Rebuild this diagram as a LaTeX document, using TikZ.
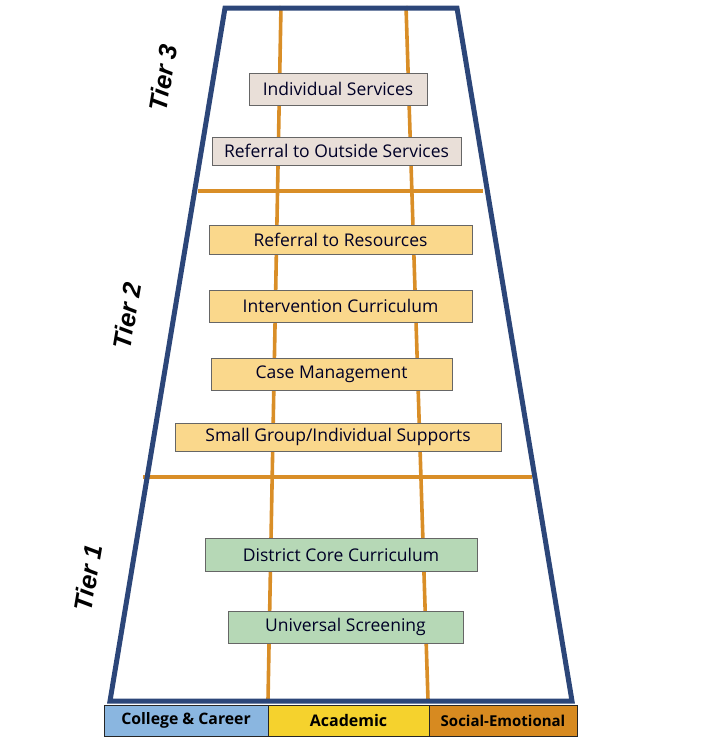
\documentclass[tikz,border=0pt]{standalone}
\usepackage{fontspec}
\setmainfont{Open Sans}
\newfontfamily\tierfont{Liberation Sans}
\definecolor{navy}{HTML}{2C4679}
\definecolor{gridorange}{HTML}{D98E27}
\definecolor{tierthree}{HTML}{E9DFD8}
\definecolor{tiertwo}{HTML}{FAD88C}
\definecolor{tierone}{HTML}{B6D8B6}
\definecolor{ccblue}{HTML}{8AB6E0}
\definecolor{acyellow}{HTML}{F5D22D}
\definecolor{seorange}{HTML}{D78A20}
\tikzset{
  sbox/.style={draw=black!60, line width=0.9pt, inner sep=0pt, font=\fontsize{17.5}{20}\selectfont, text=black!85!blue},
  tierlabel/.style={rotate=80.4, font=\tierfont\bfseries\itshape\fontsize{25.5}{28}\selectfont},
  barbox/.style={draw=black!85, line width=1pt, inner sep=0pt, minimum height=31pt, font=\bfseries\fontsize{15.8}{18}\selectfont},
  grid/.style={gridorange, line width=3.6pt},
}
\begin{document}
\begin{tikzpicture}[x=1pt,y=-1pt]
\useasboundingbox (0,0) rectangle (702,755);
% grid coordinates
\coordinate (va1) at (281,6);
\coordinate (vb1) at (268,700);
\coordinate (va2) at (406,6);
\coordinate (vb2) at (428,700);
\coordinate (h1l) at (198,191);
\coordinate (h1r) at (483,191);
\coordinate (h2l) at (143,477);
\coordinate (h2r) at (532,477);
\draw[grid] (va1) -- (vb1);
\draw[grid] (va2) -- (vb2);
\draw[grid] (h1l) -- (h1r);
\draw[grid] (h2l) -- (h2r);
% trapezoid
\coordinate (tl) at (225,8);
\coordinate (tr) at (457,8);
\coordinate (br) at (572,701);
\coordinate (bl) at (110,701);
\draw[navy, line width=5pt, line join=miter] (tl) -- (tr) -- (br) -- (bl) -- cycle;
% boxes
\node[sbox, fill=tierthree, minimum width=178pt, minimum height=32pt] (s1) at (338,89) {Individual Services};
\node[sbox, fill=tierthree, minimum width=249pt, minimum height=28pt] (s2) at (336.5,151) {Referral to Outside Services};
\node[sbox, fill=tiertwo, minimum width=263pt, minimum height=29pt] (s3) at (340.5,239.5) {Referral to Resources};
\node[sbox, fill=tiertwo, minimum width=263pt, minimum height=32pt] (s4) at (340.5,306) {Intervention Curriculum};
\node[sbox, fill=tiertwo, minimum width=241pt, minimum height=32pt] (s5) at (331.5,374) {Case Management};
\node[sbox, fill=tiertwo, minimum width=326pt, minimum height=28pt] (s6) at (338,437) {Small Group/Individual Supports};
\node[sbox, fill=tierone, minimum width=272pt, minimum height=33pt] (s7) at (341,555) {District Core Curriculum};
\node[sbox, fill=tierone, minimum width=235pt, minimum height=32pt] (s8) at (345.5,627) {Universal Screening};
% tier labels
\node[tierlabel] (t3) at (163,78) {Tier 3};
\node[tierlabel] (t2) at (127,316) {Tier 2};
\node[tierlabel] (t1) at (88,578) {Tier 1};
% bottom bar
\node[barbox, fill=ccblue, minimum width=164pt] (b1) at (186,720.5) {College \& Career};
\node[barbox, fill=acyellow, minimum width=161pt, font=\bfseries\fontsize{16}{18}\selectfont] (b2) at (348.5,720.5) {Academic};
\node[barbox, fill=seorange, minimum width=148pt, font=\bfseries\fontsize{15}{17}\selectfont] (b3) at (503,720.5) {Social-Emotional};
\end{tikzpicture}
\end{document}
